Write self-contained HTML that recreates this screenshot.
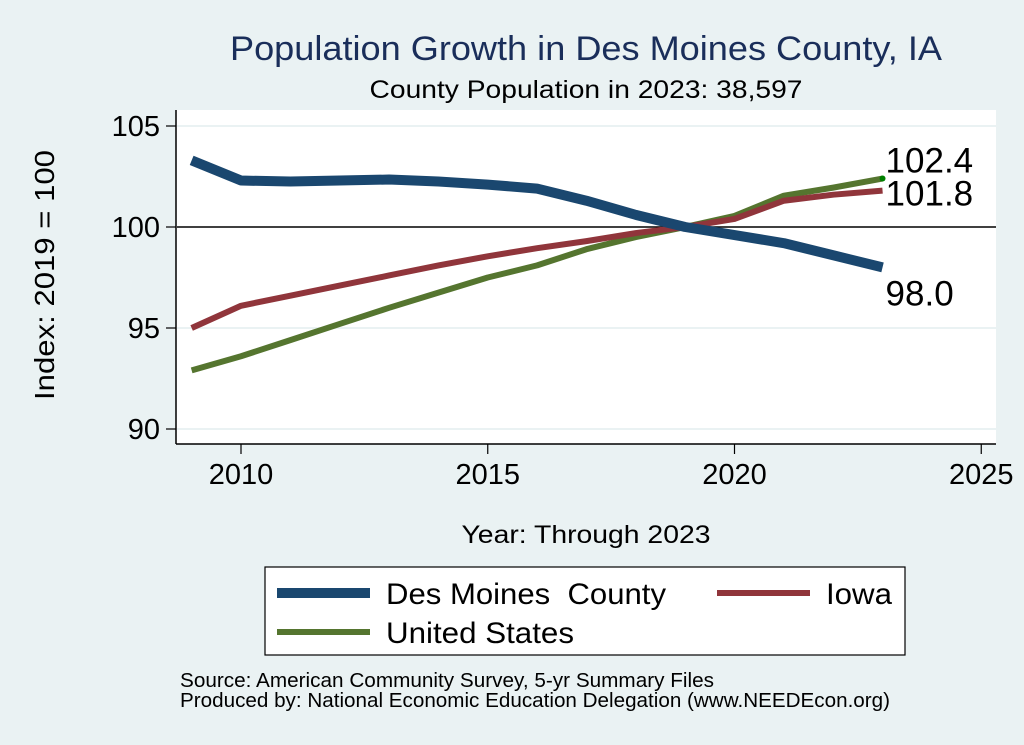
<!DOCTYPE html>
<html><head><meta charset="utf-8"><style>
body{margin:0;width:1024px;height:745px;background:#eaf2f3;font-family:"Liberation Sans",sans-serif;overflow:hidden}
svg{display:block}
</style></head><body>
<svg width="1024" height="745">
<script>
const years=[2009,2010,2011,2012,2013,2014,2015,2016,2017,2018,2019,2020,2021,2022,2023];
const desMoines=[103.3,102.3,102.25,102.3,102.35,102.25,102.1,101.9,101.3,100.6,100,99.6,99.2,98.6,98.0];
const iowa=[95.0,96.1,96.6,97.1,97.6,98.1,98.55,98.95,99.3,99.7,100,100.4,101.3,101.6,101.8];
const unitedStates=[92.9,93.6,94.4,95.2,96.0,96.75,97.5,98.1,98.9,99.5,100,100.55,101.55,101.95,102.4];
const xTicks=[2010,2015,2020,2025];
const yTicks=[90,95,100,105];
</script>
<rect x="0" y="0" width="1024" height="745" fill="#eaf2f3"/>
<text x="586" y="60" text-anchor="middle" font-size="34" textLength="712" lengthAdjust="spacingAndGlyphs" fill="#1a2e5a">Population Growth in Des Moines County, IA</text>
<text x="586" y="98" text-anchor="middle" font-size="25" textLength="433" lengthAdjust="spacingAndGlyphs" fill="#000">County Population in 2023: 38,597</text>
<rect x="176" y="110" width="820" height="334" fill="#fff"/>
<g id="grid"></g>
<line x1="176" y1="110" x2="176" y2="444" stroke="#000" stroke-width="1.5"/>
<line x1="176" y1="444" x2="996" y2="444" stroke="#000" stroke-width="1.5"/>
<g id="series"></g>
<g id="axes"></g>
<text transform="translate(54,275) rotate(-90)" text-anchor="middle" font-size="28" textLength="250" lengthAdjust="spacingAndGlyphs">Index: 2019 = 100</text>
<text x="586" y="543" text-anchor="middle" font-size="25" textLength="249" lengthAdjust="spacingAndGlyphs">Year: Through 2023</text>
<g>
<rect x="265" y="567" width="640" height="88" fill="#fff" stroke="#000" stroke-width="1.2"/>
<line x1="277" y1="593" x2="370" y2="593" stroke="#1a476f" stroke-width="10"/>
<text x="386" y="604" font-size="30" textLength="280" lengthAdjust="spacingAndGlyphs" xml:space="preserve">Des Moines  County</text>
<line x1="717" y1="593" x2="810" y2="593" stroke="#90353b" stroke-width="6"/>
<text x="826" y="604" font-size="30" textLength="66" lengthAdjust="spacingAndGlyphs">Iowa</text>
<line x1="277" y1="632" x2="370" y2="632" stroke="#55752f" stroke-width="6"/>
<text x="386" y="643" font-size="30" textLength="188" lengthAdjust="spacingAndGlyphs">United States</text>
</g>
<text x="180" y="687" font-size="20" textLength="534" lengthAdjust="spacingAndGlyphs">Source: American Community Survey, 5-yr Summary Files</text>
<text x="180" y="707" font-size="20" textLength="710" lengthAdjust="spacingAndGlyphs">Produced by: National Economic Education Delegation (www.NEEDEcon.org)</text>
<script>
const NS='http://www.w3.org/2000/svg';
const xs=y=>241+(y-2010)*49.35;
const ys=v=>227-(v-100)*20.2;
function mk(tag,attrs,parent){const e=document.createElementNS(NS,tag);for(const k in attrs)e.setAttribute(k,attrs[k]);parent.appendChild(e);return e;}
const grid=document.getElementById('grid'),axes=document.getElementById('axes'),series=document.getElementById('series');
yTicks.forEach(t=>{
  if(t!==100){const g=mk('line',{x1:177,x2:996,y1:ys(t),y2:ys(t),stroke:'#eaf2f3','stroke-width':2},grid);
  
  }
  const tk=mk('line',{x1:166,x2:176,y1:ys(t),y2:ys(t),stroke:'#000','stroke-width':1.2},axes);
  
  
  const tx=mk('text',{x:160,y:ys(t)+10,'text-anchor':'end','font-size':29},axes);tx.textContent=t;
  
  
});
const ref=mk('line',{x1:177,x2:996,y1:ys(100),y2:ys(100),stroke:'#000','stroke-width':1.5},grid);


xTicks.forEach(t=>{
  const tk=mk('line',{x1:xs(t),x2:xs(t),y1:444,y2:454,stroke:'#000','stroke-width':1.2},axes);
  
  
  const tx=mk('text',{x:xs(t),y:484,'text-anchor':'middle','font-size':29},axes);tx.textContent=t;
  
  
});
function line(vals,color,w,name){
  const p=mk('polyline',{points:vals.map((v,i)=>xs(years[i])+','+ys(v)).join(' '),fill:'none',stroke:color,'stroke-width':w,'stroke-linejoin':'round'},series);
  
  
}
line(unitedStates,'#55752f',6,'line-united-states');
line(iowa,'#90353b',6,'line-iowa');
line(desMoines,'#1a476f',10,'line-des-moines');
const last=years.length-1,lx=xs(years[last]);
const d=mk('circle',{cx:lx,cy:ys(unitedStates[last]),r:3,fill:'#008000'},series);


[[unitedStates,-6,'label-us'],[iowa,15,'label-iowa'],[desMoines,38,'label-des-moines']].forEach(([a,dy,n])=>{
  const t=mk('text',{x:lx+3,y:ys(a[last])+dy,'font-size':35},series);t.textContent=a[last].toFixed(1);
  
  
});
</script>
</svg>
</body></html>
